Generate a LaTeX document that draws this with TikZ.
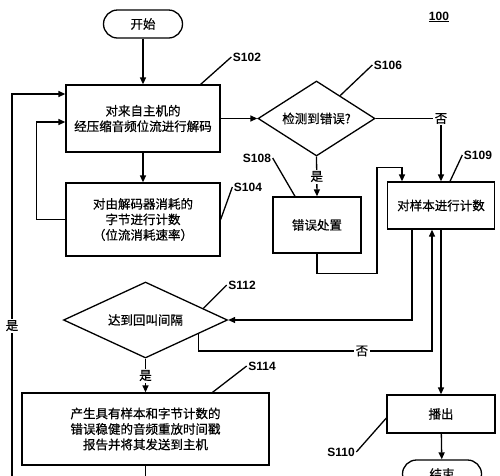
\documentclass[tikz,border=0pt]{standalone}
\usepackage{fontspec}
\setmainfont{Liberation Sans}
\newfontfamily\cjk[FakeBold=0.6]{Noto Sans CJK SC}
\usetikzlibrary{arrows.meta}
\usetikzlibrary{shapes.geometric}
\usetikzlibrary{calc}

\begin{document}
\begin{tikzpicture}[x=1pt,y=-1pt,line width=1.3pt,
    every node/.style={font=\cjk\fontsize{12.5}{15.5}\selectfont},
    box/.style={draw,rectangle,align=center,inner sep=0pt},
    term/.style={draw,rectangle,rounded corners=14pt,inner sep=0pt,minimum width=79pt,minimum height=28pt},
    dec/.style={draw,diamond,inner sep=0pt,shape aspect=1.6},
    stepno/.style={font=\bfseries\fontsize{12}{14}\selectfont,inner sep=1pt},
    yn/.style={fill=white,inner sep=1.5pt},
    arr/.style={-{Triangle[length=7pt,width=6pt]}}]

    \useasboundingbox (0,0) rectangle (500,475);
    \clip (0,0) rectangle (500,475);

    \node[term] (start) at (143,24) {开始};
    \node[box,minimum width=154pt,minimum height=67pt] (s102) at (143,118.5) {对来自主机的\\经压缩音频位流进行解码};
    \node[box,minimum width=154pt,minimum height=73pt] (s104) at (143,219.5) {对由解码器消耗的\\字节进行计数\\（位流消耗速率）};
    \node[dec,minimum width=117pt,minimum height=75pt] (s106) at (316.5,118.5) {检测到错误?};
    \node[box,minimum width=88pt,minimum height=56pt] (s108) at (317,225) {错误处置};
    \node[box,minimum width=107pt,minimum height=47pt] (s109) at (441,205.5) {对样本进行计数};
    \node[dec,minimum width=164pt,minimum height=76pt] (s112) at (145.5,320) {达到回叫间隔};
    \node[box,minimum width=247pt,minimum height=72pt] (s114) at (145.5,429) {产生具有样本和字节计数的\\错误稳健的音频重放时间戳\\报告并将其发送到主机};
    \node[box,minimum width=108pt,minimum height=38pt] (s110) at (441,414) {播出};
    \node[term] (end) at (442,474) {结束};

    \node[stepno] (l102) at (247,57) {S102};
    \node[stepno] (l104) at (248,187) {S104};
    \node[stepno] (l106) at (388,65) {S106};
    \node[stepno] (l108) at (257,158) {S108};
    \node[stepno] (l109) at (478,155) {S109};
    \node[stepno] (l112) at (242,285) {S112};
    \node[stepno] (l114) at (262,366) {S114};
    \node[stepno] (l110) at (341,452) {S110};
    \node[stepno] (fig) at (439,17) {\underline{100}};

    \draw ([xshift=-20pt]s102.north east) -- (l102.west);
    \draw (s104.east) -- (l104.west);
    \draw ($(s106.north)!0.4!(s106.east)$) -- (l106.west);
    \draw (l108.east) -- ([xshift=-22pt]s108.north);
    \draw ([xshift=9pt]s109.north) -- (l109.west);
    \draw ($(s112.north)!0.7!(s112.east)$) -- (l112.west);
    \draw ([xshift=67pt]s114.north) -- (l114.west);
    \draw (l110.east) -- ([yshift=-4pt]s110.west);

    \draw[arr] (start) -- (s102);
    \draw[arr] (s102) -- (s104);
    \draw[arr] (s104.west) -- ++(-29,0) |- ([yshift=-3.5pt]s102.west);
    \coordinate (lb) at (12,480);
    \draw[arr] (lb) |- node[yn,pos=0.2]{是} ([yshift=24.5pt]s102.west);
    \draw[arr] (s102.east) -- (s106.west);
    \draw[arr] (s106.south) -- node[yn]{是} (s108.north);
    \draw[arr] (s106.east) -| node[yn]{否} (s109.north);
    \draw[arr] (s108.south) -- ++(0,20) -- ++(60,0) |- ([xshift=-39pt,yshift=14pt]s109.north) -- ([xshift=-39pt]s109.north);
    \draw[arr] ([xshift=-29pt]s109.south) |- (s112.east);
    \draw[arr] ($(s112.east)!0.36!(s112.south)$) -- ++(0,17) -| node[yn,pos=0.35]{否} ([xshift=-9pt]s109.south);
    \draw[arr] (s109) -- (s110);
    \draw[arr] (s110) -- (end);
    \draw[arr] (s112) -- node[yn]{是} (s114);
    \coordinate (lbot) at (145.5,480);
    \draw (s114) -- (lbot);

\end{tikzpicture}
\end{document}
